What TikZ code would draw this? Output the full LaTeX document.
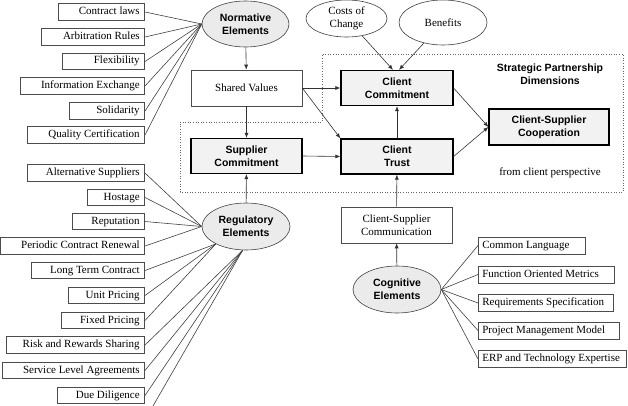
\documentclass[tikz,border=0pt]{standalone}
\usepackage{fontspec}
\setmainfont{Liberation Serif}
\newfontfamily\hv{Liberation Sans}
\usetikzlibrary{shapes.geometric,arrows.meta,calc}
\begin{document}
\begin{tikzpicture}[x=1pt,y=-1pt,
  tm/.style={font=\fontsize{11}{13}\selectfont},
  bs/.style={font=\hv\bfseries\fontsize{10.5}{13}\selectfont},
  lbox/.style={draw=black!70, line width=0.6pt, tm, inner xsep=5pt, inner ysep=0pt,
    minimum height=16.5pt, text height=7.5pt, text depth=2.5pt, text width=#1, align=flush right, anchor=east},
  rbox/.style={draw=black!70, line width=0.6pt, tm, inner xsep=4pt, inner ysep=0pt,
    minimum height=17pt, text height=7.5pt, text depth=2.5pt, text width=#1, align=flush left, anchor=west},
  wbox/.style={draw=black!70, line width=0.6pt, tm, fill=white, minimum width=111pt, minimum height=36pt, align=center, inner sep=1pt},
  gbox/.style={draw=black, line width=1.2pt, bs, fill=black!5, minimum width=111pt, minimum height=35pt, align=center, inner sep=1pt},
  gell/.style={ellipse, draw=black!75, line width=0.6pt, fill=black!8, bs, align=center, inner sep=0pt},
  well/.style={ellipse, draw=black!75, line width=0.6pt, fill=white, tm, align=center, inner sep=0pt},
  ln/.style={draw=black!75, line width=0.6pt},
  arr/.style={draw=black!80, line width=0.6pt, -{Latex[length=5pt,width=4pt]}}
]
\useasboundingbox (0,0) rectangle (628,406);

% dotted region
\draw[black!60, dotted, line width=0.6pt] (180,122) -- (322,122) -- (322,54) -- (623,54) -- (623,192) -- (180,192) -- cycle;

% central nodes
\node[gell, minimum width=87pt, minimum height=46pt] (NE) at (245.5,24) {Normative\\Elements};
\node[wbox] (SV) at (246.5,88) {Shared Values};
\node[gbox] (SC) at (246.5,156) {Supplier\\Commitment};
\node[gbox, minimum width=112pt] (CC) at (397,88) {Client\\Commitment};
\node[gbox, minimum width=112pt] (CT) at (397,156.5) {Client\\Trust};
\node[gbox, minimum width=120pt, minimum height=36pt] (CO) at (549,127) {Client-Supplier\\Cooperation};
\node[wbox] (CS) at (396.5,225) {Client-Supplier\\Communication};
\node[gell, minimum width=88pt, minimum height=47pt] (CE) at (397,289.5) {Cognitive\\Elements};
\node[gell, minimum width=88pt, minimum height=47pt] (RE) at (246,226.5) {Regulatory\\Elements};
\node[well, minimum width=81pt, minimum height=37pt] (CH) at (346.5,18.5) {Costs of\\Change};
\node[well, minimum width=88pt, minimum height=45pt] (BE) at (443,22.5) {Benefits};
\node[bs, align=center] (SP) at (550,74) {Strategic Partnership\\Dimensions};
\node[tm] (FP) at (550,173) {from client perspective};

% normative boxes
\node[lbox=76pt] (n1) at (145,12) {Contract laws};
\node[lbox=93pt] (n2) at (145,37) {Arbitration Rules};
\node[lbox=72pt] (n3) at (145,61.5) {Flexibility};
\node[lbox=114pt] (n4) at (145,86) {Information Exchange};
\node[lbox=65pt] (n5) at (145,111) {Solidarity};
\node[lbox=107pt] (n6) at (145,135) {Quality Certification};

% regulatory boxes
\node[lbox=107pt] (r1) at (145,173) {Alternative Suppliers};
\node[lbox=47pt] (r2) at (145,197.5) {Hostage};
\node[lbox=62pt] (r3) at (145,221.5) {Reputation};
\node[lbox=134pt] (r4) at (145,246) {Periodic Contract Renewal};
\node[lbox=103pt] (r5) at (145,270.5) {Long Term Contract};
\node[lbox=66pt] (r6) at (145,295.5) {Unit Pricing};
\node[lbox=73pt] (r7) at (145,320.5) {Fixed Pricing};
\node[lbox=128pt] (r8) at (145,345) {Risk and Rewards Sharing};
\node[lbox=132pt] (r9) at (145,370.5) {Service Level Agreements};
\node[lbox=77pt] (r10) at (145,395.5) {Due Diligence};
\coordinate (r11) at (153,406);

% cognitive boxes
\node[rbox=99pt] (c1) at (478,245.5) {Common Language};
\node[rbox=128pt] (c2) at (478,274.5) {Function Oriented Metrics};
\node[rbox=127pt] (c3) at (478,303) {Requirements Specification};
\node[rbox=133pt] (c4) at (478,330.5) {Project Management Model};
\node[rbox=140pt] (c5) at (478,359) {ERP and Technology Expertise};

% fan lines
\foreach \i in {1,...,6} \draw[ln] (n\i.east) -- (NE.west);
\foreach \i in {1,...,4} \draw[ln] (r\i.east) -- (RE.west);
\foreach \i in {5,6,7} \draw[ln] (r\i.east) -- (RE.210);
\foreach \i in {8,9,10} \draw[ln] (r\i.east) -- (RE.262);
\draw[ln] (r11) -- (RE.262);
\foreach \i in {1,...,5} \draw[ln] (c\i.west) -- (CE.east);

% arrows
\coordinate (ccl) at ($(CC.north)+(-4,0)$);
\coordinate (ccr) at ($(CC.north)+(2,0)$);
\draw[arr] (NE) -- (SV);
\draw[arr] (SV) -- (SC);
\draw[arr] (SV.east) -- (CC.west);
\draw[arr] (SV.east) -- (CT.north west);
\draw[arr] (SC.east) -- (CT.west);
\draw[arr] (CT) -- (CC);
\draw[arr] (CC.east) -- (CO.west);
\draw[arr] (CT.east) -- (CO.west);
\draw[arr] (CS) -- (CT);
\draw[arr] (CE) -- (CS);
\draw[arr] (RE) -- (SC);
\draw[arr] (CH) -- (ccl);
\draw[arr] (BE) -- (ccr);
\end{tikzpicture}
\end{document}
